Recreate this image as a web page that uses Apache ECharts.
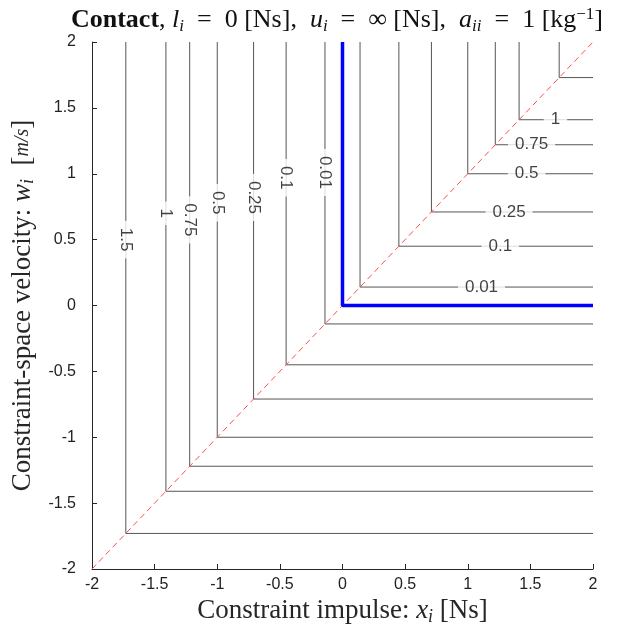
<!DOCTYPE html>
<html>
<head>
<meta charset="utf-8">
<style>
  html, body { margin: 0; padding: 0; background: #fff; }
  #chart { width: 638px; height: 632px; }
</style>
<script src="https://cdn.jsdelivr.net/npm/echarts@6/dist/echarts.min.js"></script>
</head>
<body>
<div id="chart"></div>
<script>
// contour levels and the corner (on the diagonal) of each contour
const levels = [0.01, 0.1, 0.25, 0.5, 0.75, 1, 1.5];
const corners = [0.14, 0.45, 0.71, 1, 1.22, 1.41, 1.73];
// where the labels sit: lower-left ones on the vertical legs (y), upper-right ones on the horizontal legs (x)
const lowerLabelY = [1.01, 0.97, 0.82, 0.78, 0.65, 0.70, 0.50];
const upperLabelX = [1.11, 1.26, 1.33, 1.47, 1.51, 1.70, null];

const chart = echarts.init(document.getElementById("chart"));

const serif = "'Liberation Serif', 'DejaVu Serif', serif";
const sans = "'Liberation Sans', Arial, sans-serif";
const lineColor = "#555";

const series = [];

// gray contour lines (each is an L: up from the corner, right from the corner)
corners.forEach((a) => {
  [-a, a].forEach((c) => {
    series.push({
      type: "line",
      data: [[c, 2], [c, c], [2, c]],
      symbol: "none",
      lineStyle: { color: lineColor, width: 1 },
      z: 2,
      silent: true,
    });
  });
});

// diagonal
series.push({
  type: "line",
  data: [[-2, -2], [2, 2]],
  symbol: "none",
  lineStyle: { color: "#ff4d4d", width: 1, type: [6, 4] },
  z: 3,
  silent: true,
});

// solution set
series.push({
  type: "line",
  data: [[0, 2], [0, 0], [2, 0]],
  symbol: "none",
  lineStyle: { color: "#0000ff", width: 3.5 },
  z: 4,
  silent: true,
});

const labelStyle = {
  show: true,
  position: "inside",
  formatter: (p) => p.name,
  fontFamily: sans,
  fontSize: 17,
  color: "#111",
  backgroundColor: "#fff",
  padding: [1, 7],
};

// labels on the lower-left contours (rotated)
series.push({
  type: "scatter",
  data: levels.map((lv, i) => ({ value: [-corners[i], lowerLabelY[i]], name: String(lv) })),
  symbolSize: 1,
  itemStyle: { color: "rgba(0,0,0,0)" },
  label: Object.assign({}, labelStyle, { rotate: -90 }),
  z: 5,
  silent: true,
});

// labels on the upper-right contours
series.push({
  type: "scatter",
  data: levels
    .map((lv, i) => ({ value: [upperLabelX[i], corners[i]], name: String(lv) }))
    .filter((d) => d.value[0] !== null),
  symbolSize: 1,
  itemStyle: { color: "rgba(0,0,0,0)" },
  label: labelStyle,
  z: 5,
  silent: true,
});

const axisCommon = {
  type: "value",
  min: -2,
  max: 2,
  interval: 0.5,
  splitLine: { show: false },
  axisLine: { show: true, onZero: false, lineStyle: { color: "#262626", width: 1 } },
  axisTick: { show: true, inside: true, length: 5, lineStyle: { color: "#262626" } },
  axisLabel: {
    fontFamily: sans,
    fontSize: 16,
    color: "#222",
    formatter: (v) => String(v),
    showMinLabel: true,
    showMaxLabel: true,
  },
  nameLocation: "middle",
  nameTextStyle: {
    fontFamily: serif,
    fontSize: 27,
    color: "#262626",
    rich: {
      i: { fontFamily: serif, fontStyle: "italic", fontSize: 27, color: "#262626" },
      s: { fontFamily: serif, fontStyle: "italic", fontSize: 18, color: "#262626", verticalAlign: "bottom", padding: [12, 0, 0, 0] },
      f: { fontFamily: serif, fontStyle: "italic", fontSize: 20, color: "#262626" },
    },
  },
};

chart.setOption({
  animation: false,
  backgroundColor: "#fff",
  title: {
    text: "{b|Contact}, {i|l}{s|i}  =  0 [Ns],  {i|u}{s|i}  =  ∞ [Ns],  {i|a}{s|ii}  =  1 [kg{p|−1}]",
    left: 332,
    textAlign: "center",
    top: 1,
    textStyle: {
      fontFamily: serif,
      fontSize: 26,
      fontWeight: "normal",
      color: "#111",
      rich: {
        b: { fontFamily: serif, fontSize: 26, fontWeight: "bold", color: "#111" },
        i: { fontFamily: serif, fontSize: 26, fontStyle: "italic", color: "#111" },
        s: { fontFamily: serif, fontSize: 17, fontStyle: "italic", color: "#111", verticalAlign: "bottom", padding: [12, 0, 0, 0] },
        p: { fontFamily: serif, fontSize: 17, color: "#111", verticalAlign: "top", padding: [0, 0, 10, 0] },
      },
    },
  },
  grid: { left: 92, right: 45, top: 42, bottom: 63 },
  xAxis: Object.assign({}, axisCommon, {
    name: "Constraint impulse: {i|x}{s|i} [Ns]",
    nameGap: 27,
    axisLabel: Object.assign({}, axisCommon.axisLabel, { margin: 8 }),
  }),
  yAxis: Object.assign({}, axisCommon, {
    name: "Constraint-space velocity: {i|w}{s|i}  [{f|m/s}]",
    nameGap: 52,
    axisLabel: Object.assign({}, axisCommon.axisLabel, { margin: 16 }),
  }),
  series: series,
});
</script>
</body>
</html>
